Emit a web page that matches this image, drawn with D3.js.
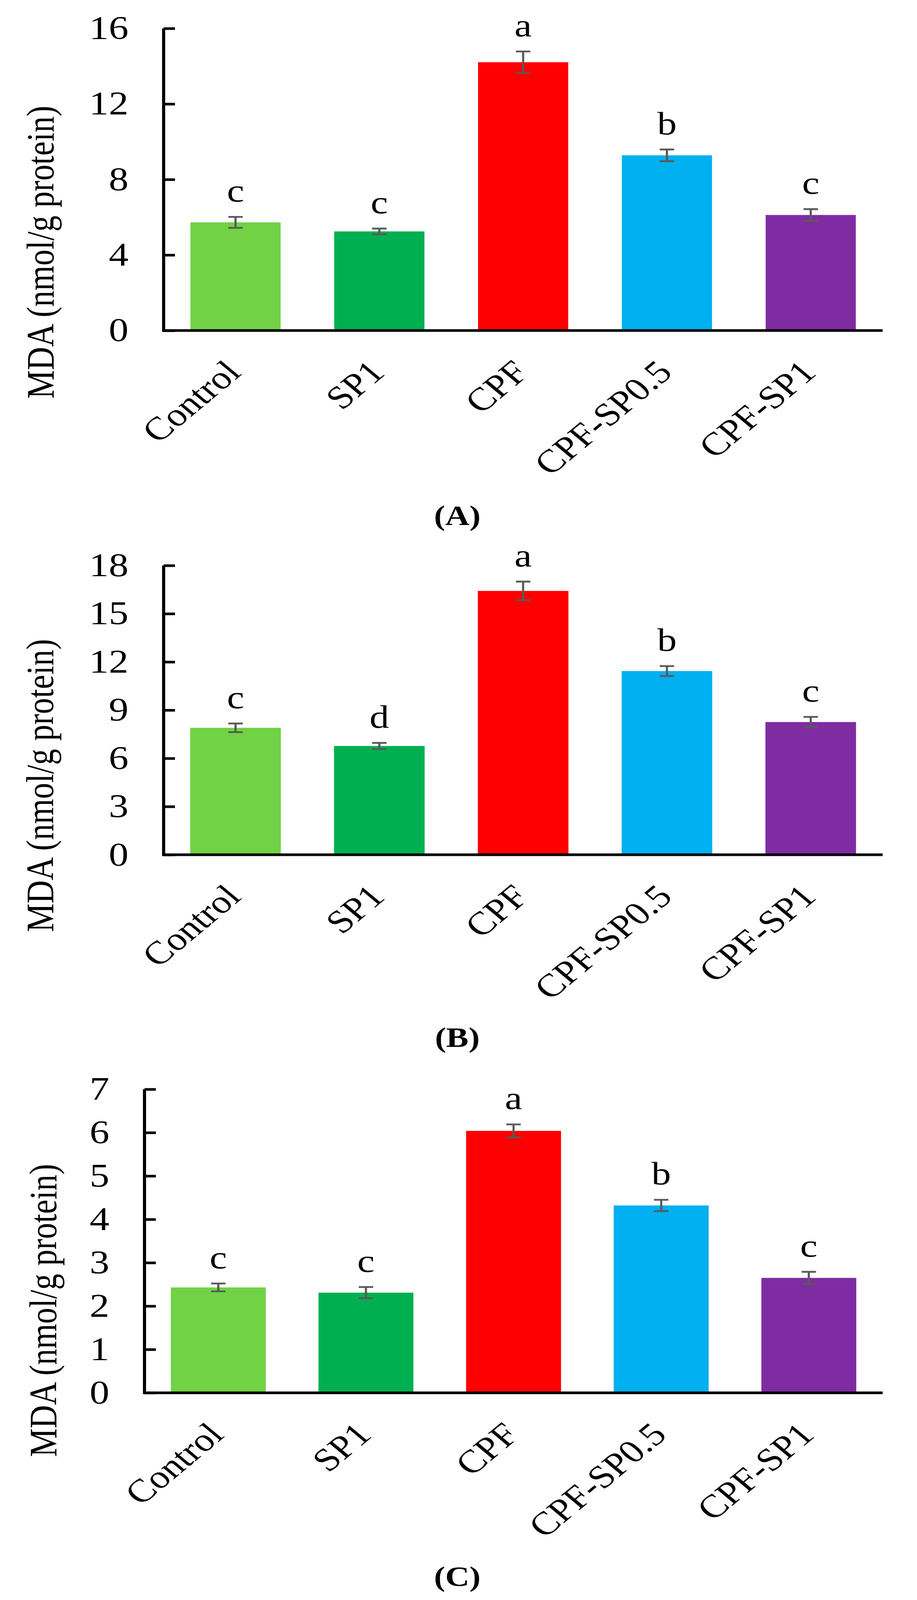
<!DOCTYPE html>
<html>
<head>
<meta charset="utf-8">
<script src="https://cdn.jsdelivr.net/npm/d3@7"></script>
<style>
  html, body { margin: 0; padding: 0; background: #ffffff; width: 100%; height: 100%; overflow: hidden; }
  #chart { width: 100vw; height: 100vh; }
  svg { display: block; width: 100%; height: 100%; }
</style>
</head>
<body>
<div id="chart"></div>
<script>
// ---------- DATA ----------
const categories = ["Control", "SP1", "CPF", "CPF-SP0.5", "CPF-SP1"];

const valuesA = [5.73, 5.25, 14.21, 9.28, 6.12];
const errorsA = [0.29, 0.15, 0.57, 0.31, 0.31];
const lettersA = ["c", "c", "a", "b", "c"];
const ticksA = [0, 4, 8, 12, 16];

const valuesB = [7.90, 6.77, 16.42, 11.43, 8.26];
const errorsB = [0.27, 0.19, 0.58, 0.31, 0.32];
const lettersB = ["c", "d", "a", "b", "c"];
const ticksB = [0, 3, 6, 9, 12, 15, 18];

const valuesC = [2.43, 2.31, 6.04, 4.32, 2.65];
const errorsC = [0.09, 0.13, 0.15, 0.13, 0.14];
const lettersC = ["c", "c", "a", "b", "c"];
const ticksC = [0, 1, 2, 3, 4, 5, 6, 7];

const panelLabels = ["(A)", "(B)", "(C)"];
const yAxisTitle = "MDA (nmol/g protein)";

// ---------- STYLE / LAYOUT ----------
const barColors = ["#70D244", "#00B050", "#FF0000", "#00B0F0", "#7F2CA3"];
const W = 2348, H = 4923;   // design size of the figure (scaled to the window)
const FONT = "'Liberation Serif', 'Times New Roman', Times, serif";

const panels = [
  { values: valuesA, errors: errorsA, letters: lettersA, ticks: ticksA,
    x0: 419, x1: 2260, yTop: 87.5, yBottom: 1017, pad: 0.373,
    titleX: 137, titleY: 776, labelY: 1615 },
  { values: valuesB, errors: errorsB, letters: lettersB, ticks: ticksB,
    x0: 419, x1: 2260, yTop: 1740, yBottom: 2630, pad: 0.37,
    titleX: 136, titleY: 2417, labelY: 3221 },
  { values: valuesC, errors: errorsC, letters: lettersC, ticks: ticksC,
    x0: 370, x1: 2260, yTop: 3351.5, yBottom: 4285.5, pad: 0.357,
    titleX: 144, titleY: 4032, labelY: 4880 }
];

const svg = d3.select("#chart").append("svg")
  .attr("viewBox", `0 0 ${W} ${H}`)
  .attr("preserveAspectRatio", "none");

svg.append("rect").attr("width", W).attr("height", H).attr("fill", "#ffffff");

panels.forEach((p, pi) => {
  const g = svg.append("g");
  const rows = categories.map((c, i) => ({
    cat: c, v: p.values[i], e: p.errors[i], letter: p.letters[i], color: barColors[i]
  }));

  const x = d3.scaleBand().domain(categories).range([p.x0, p.x1])
    .paddingInner(p.pad).paddingOuter(p.pad / 2).align(0.5);
  const yMax = p.ticks[p.ticks.length - 1];
  const y = d3.scaleLinear().domain([0, yMax]).range([p.yBottom, p.yTop]);
  const cx = d => x(d.cat) + x.bandwidth() / 2;

  // bars
  g.selectAll("rect.bar").data(rows).join("rect")
    .attr("class", "bar")
    .attr("x", d => x(d.cat))
    .attr("width", x.bandwidth())
    .attr("y", d => y(d.v))
    .attr("height", d => y(0) - y(d.v))
    .attr("fill", d => d.color);

  // error bars
  const capW = 37;
  const eb = g.selectAll("g.err").data(rows).join("g").attr("class", "err")
    .attr("stroke", "#595959").attr("stroke-width", 5.5).attr("fill", "none");
  eb.append("line")
    .attr("x1", cx).attr("x2", cx)
    .attr("y1", d => y(d.v - d.e)).attr("y2", d => y(d.v + d.e));
  eb.append("line")
    .attr("x1", d => cx(d) - capW / 2).attr("x2", d => cx(d) + capW / 2)
    .attr("y1", d => y(d.v + d.e)).attr("y2", d => y(d.v + d.e));
  eb.append("line")
    .attr("x1", d => cx(d) - capW / 2).attr("x2", d => cx(d) + capW / 2)
    .attr("y1", d => y(d.v - d.e)).attr("y2", d => y(d.v - d.e));

  // significance letters
  g.selectAll("text.letter").data(rows).join("text")
    .attr("class", "letter")
    .attr("x", cx)
    .attr("y", d => y(d.v + d.e) - 47)
    .attr("text-anchor", "middle")
    .attr("font-family", FONT).attr("font-size", 100).attr("fill", "#000")
    .text(d => d.letter);

  // y axis
  const yAxis = d3.axisLeft(y).tickValues(p.ticks).tickFormat(d3.format("d"))
    .tickSizeInner(-29).tickSizeOuter(0).tickPadding(90);
  const ya = g.append("g").attr("transform", `translate(${p.x0},0)`).call(yAxis);
  ya.select(".domain").attr("stroke", "#000").attr("stroke-width", 8)
    .attr("d", `M0,${p.yTop}V${p.yBottom + 4}`);
  ya.selectAll(".tick line").attr("stroke", "#000").attr("stroke-width", 8);
  ya.selectAll(".tick text").attr("font-family", FONT).attr("font-size", 101).attr("fill", "#000");

  // x axis
  const xAxis = d3.axisBottom(x).tickSize(0).tickPadding(0);
  const xa = g.append("g").attr("transform", `translate(0,${p.yBottom})`).call(xAxis);
  xa.select(".domain").attr("stroke", "#000").attr("stroke-width", 8)
    .attr("d", `M${p.x0 - 4},0H${p.x1}`);
  xa.selectAll(".tick text")
    .attr("font-family", FONT).attr("font-size", 100).attr("fill", "#000")
    .attr("text-anchor", "end")
    .attr("dy", null)
    .attr("y", 0)
    .attr("transform", "translate(18,134) rotate(-45)");

  // y axis title
  g.append("text")
    .attr("transform", `translate(${p.titleX},${p.titleY}) rotate(-90)`)
    .attr("text-anchor", "middle")
    .attr("font-family", FONT).attr("font-size", 99).attr("fill", "#000")
    .text(yAxisTitle);

  // panel label
  g.append("text")
    .attr("x", 1171).attr("y", p.labelY)
    .attr("text-anchor", "middle")
    .attr("font-family", FONT).attr("font-size", 86).attr("font-weight", "bold").attr("fill", "#000")
    .text(panelLabels[pi]);
});
</script>
</body>
</html>
